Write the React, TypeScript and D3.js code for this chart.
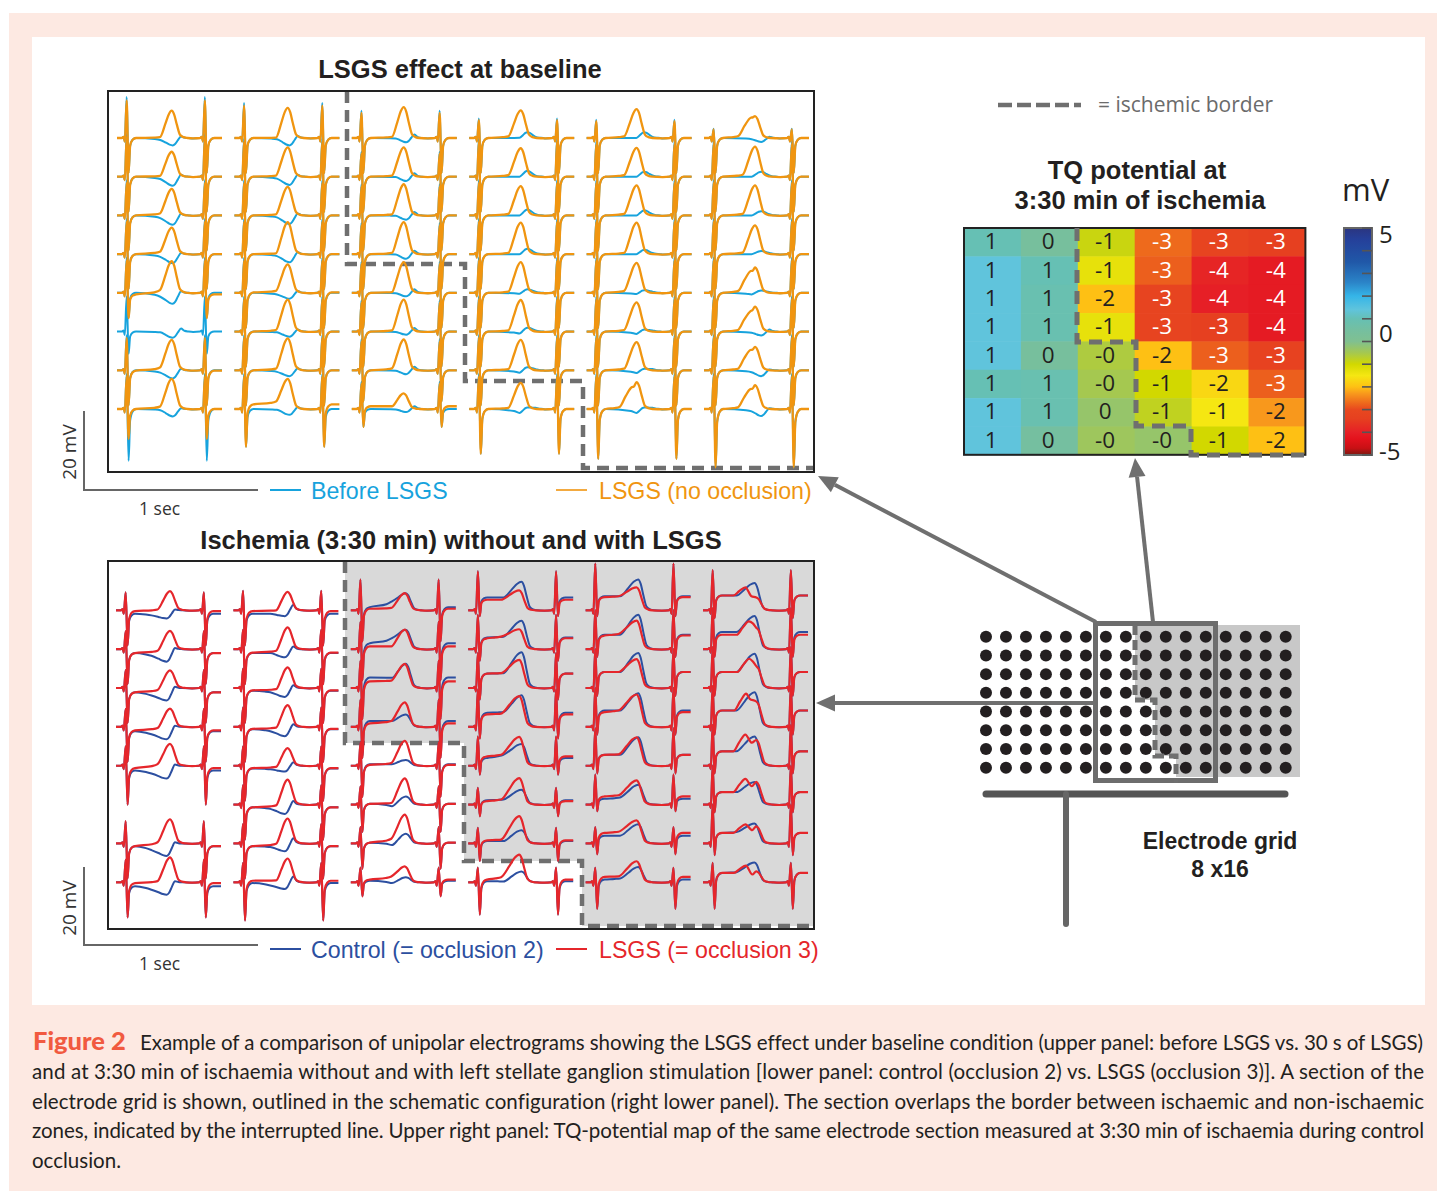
import React from 'react';
import * as d3 from 'd3';

// ── Electrogram read-offs, one inner list per grid column, 8 rows each (mV) ──
// null = lead not recorded
type Col = (number | null)[];

const topLsgsPeak: Col[] = [
  [7.0, 6.4, 6.8, 6.8, 8.1, null, 7.8, 7.7],
  [7.7, 7.5, 7.3, 8.2, 7.3, 8.2, 8.2, 7.7],
  [7.9, 7.5, 8.0, 8.2, 7.9, 8.2, 7.9, 4.0],
  [7.1, 7.3, 7.5, 8.1, 7.9, 8.1, 7.8, 6.7],
  [7.4, 7.4, 7.7, 8.1, 7.7, 7.5, 7.2, 6.9],
  [5.6, 7.7, 7.7, 7.4, 6.5, 6.4, 6.0, 6.1],
];
const topLsgsSt: Col[] = [
  [0, 0, 0, 0, -0.4, null, -0.1, 0],
  [0, 0, 0, 0, 0.1, 0, 0, 1.2],
  [0, 0, 0, 0, 0, 0, 0, 0.7],
  [0, 0, 0, 0, 0, 0, 0, 0],
  [0, 0, 0, 0, 0, 0, 0, 0],
  [0, 0, 0, 0, 0, 0, 0, 0],
];
const topLsgsShoulder: Col[] = [
  [0.2, 0.2, 0.5, 0.6, 0.7, null, 0.7, 0.6],
  [0.1, 0.3, 0.3, 0.2, 0.5, 0.4, 0.4, 1.9],
  [0.3, 0.3, 0.3, 0.3, 0.2, 0.3, 0.5, 0.7],
  [0.4, 0.4, 0.4, 0.3, 0.3, 0.3, 0.3, 0.3],
  [0.4, 0.4, 0.4, 0.3, 0.5, 0.4, 0.4, 0.5],
  [0.5, 0.5, 0.4, 0.4, 0.5, 0.4, 0.4, 0.4],
];
const topBeforePeak: Col[] = [
  [-1.9, -2.3, -2.4, -2.3, -2.8, -1.6, -2.1, -1.9],
  [-1.9, -2.1, -2.2, -2.1, -1.5, -1.3, -1.5, -1.5],
  [-1.1, -1.1, -1.1, -1.2, -0.9, -0.8, -1.0, -0.8],
  [1.5, 1.5, 1.5, 1.4, 0.9, 1.0, 0.8, 0.4],
  [1.5, 1.3, 1.3, 1.1, 0.7, 0.5, 0.4, 0.4],
  [-1.0, 1.3, 1.1, 0.8, 0.6, -1.0, -1.5, -1.8],
];
const topBeforeLate: Col[] = [
  [0.4, 0.5, 0.4, 0.3, 0.4, 0.8, 0.4, 0.2],
  [0.5, 0.5, 0.5, 0.5, 0.5, 0.5, 0.5, 0.5],
  [0.9, 0.9, 0.9, 0.9, 0.9, 0.9, 0.9, 0.7],
  [0.3, 0.3, 0.3, 0.3, 0.3, 0.3, 0.3, 0.3],
  [0.3, 0.3, 0.3, 0.3, 0.3, 0.3, 0.3, 0.3],
  [0.3, 0.3, 0.3, 0.3, 0.2, 0.5, 0.2, 0.2],
];
const topBeforeShoulder: Col[] = [
  [-0.5, -0.6, -0.7, -0.7, -1.0, -0.2, -0.6, -0.3],
  [-0.3, -0.5, -0.5, -0.5, -0.4, -0.2, -0.4, -0.2],
  [-0.1, -0.1, -0.1, -0.1, -0.1, -0.1, -0.1, -0.1],
  [0.05, 0, 0, 0, -0.2, -0.5, -0.6, -1.0],
  [0, 0, 0, 0, -0.3, -0.6, -0.7, -1.0],
  [-0.3, 0, 0, 0, -0.4, -0.3, -0.5, -0.6],
];
const topR: Col[] = [
  [10.5, 11, 9, 9, 9, 9, 9, 9],
  [9, 9.8, 9, 9, 9, 9, 9, 9],
  [7, 6.4, 8, 8, 8, 8, 8, 7],
  [5, 9.8, 9, 9, 9, 9, 9, 9],
  [4.7, 9, 9, 9, 9, 9, 9, 9],
  [2.4, 9, 9, 9, 9, 9, 9, 9],
];
const topLsgsS: Col[] = [
  [9, 9, 9, 9, 6.5, null, 9, 7.7],
  [9, 9, 9, 9, 9, 9, 9, 9.7],
  [9, 9, 9, 9, 9, 9, 8, 4.6],
  [9, 9, 9, 9, 9, 9, 9, 11.5],
  [9, 9, 9, 9, 9, 9, 9, 12.8],
  [9, 9, 9, 9, 9, 9, 9, 15],
];
const topBeforeS: Col[] = [
  [9, 9, 9, 9, 6.5, 5.7, 9, 13.3],
  [9, 9, 9, 9, 9, 9, 9, 9.7],
  [9, 9, 9, 9, 9, 9, 8, 4.6],
  [9, 9, 9, 9, 9, 9, 9, 11.5],
  [9, 9, 9, 9, 9, 9, 9, 12.8],
  [9, 9, 9, 9, 9, 9, 9, 15],
];
const topLsgsMs = [316, 308, 300, 298, 289, 295];
const topBeforeMs = [322, 318, 314, 336, 333, 330];
const topLsgsRise = [68, 68, 68, 72, 72, 72];
const topBeforeRise = [72, 72, 60, 45, 45, 55];
// [col, row, humpMs, humpMv, notchMs, notchMv]
const topLsgsHumps = [
  [5, 0, 270, 5.2, 282, 5.3],
  [5, 4, 270, 5.6, 282, 5.7],
  [5, 5, 268, 5.2, 280, 5.5],
  [5, 6, 268, 5.2, 280, 5.3],
  [5, 7, 268, 5.1, 280, 5.2],
  [4, 7, 262, 5.6, 272, 5.7],
];

const botLsgsPeak: Col[] = [
  [4.9, 4.7, 4.5, 4.7, 5.6, null, 6.2, 6.4],
  [4.7, 5.6, 5.3, 5.6, 4.5, 6.4, 6.4, 6.1],
  [4.4, 5.0, 6.2, 6.3, 6.4, 6.7, 7.4, 4.1],
  [5.1, 5.1, 7.2, 7.9, 7.4, 6.8, 7.0, 7.1],
  [5.9, 7.3, 7.4, 8.3, 7.3, 6.2, 5.9, 5.4],
  [3.3, 5.5, 5.6, 6.5, 6.6, 5.8, 4.4, 2.8],
];
const botLsgsSt: Col[] = [
  [-0.2, -1.0, -1.1, -0.9, -0.6, null, -0.7, -0.2],
  [-0.2, -0.9, -0.6, -0.5, -0.6, -0.7, -0.7, 0.4],
  [0.4, 0.7, 1.7, 0.9, 0.2, 0.2, 0.2, 0.7],
  [2.7, 2.8, 3.7, 3.2, 2.4, 0.9, 0.8, 0.7],
  [3.4, 3.5, 4.1, 3.8, 2.8, 2.1, 2.7, 1.4],
  [3.8, 3.7, 4.1, 4.2, 3.7, 3.2, 2.7, 2.4],
];
const botLsgsShoulder: Col[] = [
  [0.2, -0.4, -0.5, -0.3, 0.4, null, 0.3, 0.3],
  [0.0, -0.4, -0.3, -0.2, -0.3, -0.2, -0.1, 0.5],
  [0.6, 0.7, 1.9, 1.5, 0.7, 0.4, 1.2, 1.5],
  [2.7, 3.2, 3.8, 3.4, 2.8, 1.3, 1.0, 1.3],
  [3.6, 3.9, 4.1, 4.2, 2.9, 2.4, 3.0, 1.5],
  [3.8, 3.7, 4.1, 4.2, 3.7, 3.2, 2.7, 2.4],
];
const botControlPeak: Col[] = [
  [-2.1, -3.2, -3.2, -3.2, -3.3, null, -3.2, -3.2],
  [-1.5, -2.1, -2.3, -2.4, -1.5, -2.4, -2.0, -1.7],
  [4.4, 5.0, 6.2, 3.2, 1.5, 2.1, 2.5, 1.3],
  [7.3, 7.3, 9.2, 8.1, 5.6, 3.8, 3.4, 2.8],
  [7.9, 8.8, 9.0, 8.6, 7.3, 5.1, 4.9, 3.9],
  [7.0, 8.5, 8.8, 8.9, 7.5, 5.8, 5.1, 5.1],
];
const botControlSt: Col[] = [
  [-0.9, -1.0, -1.1, -1.1, -1.2, null, -0.7, -1.0],
  [-0.9, -1.0, -0.7, -0.6, -0.7, -0.7, -0.7, -0.2],
  [0.8, 1.5, 2.7, 1.5, 0.4, 0.2, 0.2, 0.4],
  [3.3, 3.0, 3.7, 3.6, 2.0, 1.1, 0.6, 0.3],
  [3.6, 3.7, 4.1, 4.2, 2.8, 1.5, 2.0, 0.7],
  [3.8, 4.4, 4.1, 4.2, 3.7, 3.2, 2.7, 2.4],
];
const botControlShoulder: Col[] = [
  [-1.3, -1.7, -1.9, -1.9, -2.0, null, -1.7, -1.9],
  [-0.9, -1.0, -1.1, -1.1, -0.9, -1.1, -0.9, -0.8],
  [2.3, 2.8, 2.6, 1.5, 0.4, -0.4, -0.4, -0.2],
  [3.3, 3.2, 3.8, 3.8, 2.8, 1.3, 0.6, 0.2],
  [3.6, 3.7, 4.1, 4.2, 2.8, 1.8, 2.0, 1.0],
  [3.8, 4.4, 4.1, 4.2, 3.7, 3.2, 2.9, 2.6],
];
// rebound after an inverted T wave, null where the wave is upright
const botControlLate: Col[] = [
  [0.2, 0.3, 0.3, 0.3, 0.3, null, 0.3, 0.3],
  [1.4, 0.7, 0.7, 0.7, 0.9, 0.9, 1.3, 1.5],
  [null, null, null, null, null, null, null, null],
  [null, null, null, null, null, null, null, null],
  [null, null, null, null, null, null, null, null],
  [null, null, null, null, null, null, null, null],
];
const botR: Col[] = [
  [4.6, 4.6, 4.6, 4.6, 5, null, 5.7, 5.8],
  [5, 5, 5, 5, 5, 5, 5, 5],
  [7.9, 7, 7, 7, 6, 4.7, 4.2, 3.8],
  [10, 8.8, 9, 9.6, 7.5, 4.3, 4, 3.8],
  [12, 10, 10, 10, 9.6, 7.7, 4.2, 3.7],
  [10.3, 10.5, 10.5, 10.5, 10.5, 10, 10, 5],
];
const botS: Col[] = [
  [9, 9, 9, 9, 10, null, 9, 9],
  [9, 9, 9, 9, 9, 9, 9, 9.8],
  [8, 8, 8, 8, 8, 7, 6.5, 3.6],
  [1.5, 3, 3, 3, 2.3, 3, 4.5, 8.3],
  [1.5, 2, 2, 2, 2, 1.7, 2.8, 6.8],
  [2, 2, 2, 2, 2, 2, 3, 6.8],
];
const botLsgsMs = [312, 313, 312, 295, 295, 308];
const botControlMs = [293, 298, 318, 308, 304, 298];
const botLsgsRise = [72, 66, 78, 105, 105, 70];
const botControlRise = [88, 85, 80, 105, 105, 105];
const botLsgsHumps = [
  [5, 0, 245, 5.9, 280, 3.6],
  [5, 1, 265, 7.1, 288, 6.6],
  [5, 2, 268, 7.5, 288, 6.8],
  [5, 3, 250, 8.5, 270, 7.2],
  [5, 4, 245, 8.0, 282, 5.9],
  [5, 5, 245, 6.6, 282, 4.7],
  [5, 6, 245, 4.9, 285, 3.4],
  [5, 7, 248, 4.3, 285, 2.0],
];

const rowsCount = 8;
const colsCount = 6;

// ── TQ potential map (map values, then the rounded labels as printed) ──
const tqValues = [
  [1.0, 0.4, -0.9, -2.7, -3.2, -3.4],
  [1.4, 1.0, -1.3, -2.8, -3.9, -4.1],
  [1.4, 0.9, -2.0, -3.2, -4.0, -4.1],
  [1.4, 0.9, -1.3, -3.2, -3.4, -4.1],
  [1.4, 0.4, -0.6, -2.0, -2.8, -3.3],
  [1.0, 0.9, -0.5, -1.0, -1.7, -2.8],
  [1.4, 0.9, -0.3, -0.8, -1.5, -2.3],
  [1.4, 0.5, -0.4, -0.3, -1.0, -2.0],
];
const tqLabels = [
  ['1', '0', '-1', '-3', '-3', '-3'],
  ['1', '1', '-1', '-3', '-4', '-4'],
  ['1', '1', '-2', '-3', '-4', '-4'],
  ['1', '1', '-1', '-3', '-3', '-4'],
  ['1', '0', '-0', '-2', '-3', '-3'],
  ['1', '1', '-0', '-1', '-2', '-3'],
  ['1', '1', '0', '-1', '-1', '-2'],
  ['1', '0', '-0', '-0', '-1', '-2'],
];
const heatStops = [-5, -4.7, -4.3, -4, -3.4, -3, -2.7, -2.3, -2, -1.5, -1, -0.5, 0, 0.5, 1, 1.4, 2, 2.6, 3.5, 4.5, 5];
const heatColors = [
  '#7a1a12', '#c81014', '#e3121c', '#e61f26', '#e64020', '#e8481f', '#ee6a1c', '#f8981c', '#fec014', '#f5e712',
  '#d2d800', '#a5c850', '#80c090', '#75bfa0', '#66c0b4', '#60c4dc', '#35b5e8', '#2b84c8', '#2058a8', '#25409a', '#2b3580',
];
const barTicks = d3.range(-5, 6);

const captionLines = [
  'Example of a comparison of unipolar electrograms showing the LSGS effect under baseline condition (upper panel: before LSGS vs. 30 s of LSGS)',
  'and at 3:30 min of ischaemia without and with left stellate ganglion stimulation [lower panel: control (occlusion 2) vs. LSGS (occlusion 3)]. A section of the',
  'electrode grid is shown, outlined in the schematic configuration (right lower panel). The section overlaps the border between ischaemic and non-ischaemic',
  'zones, indicated by the interrupted line. Upper right panel: TQ-potential map of the same electrode section measured at 3:30 min of ischaemia during control',
  'occlusion.',
];

const COLORS = {
  before: '#17a3dd',
  lsgs: '#f09510',
  control: '#2c4fa0',
  red: '#e5262b',
  dash: '#6f6f6f',
  ink: '#231f20',
  pink: '#fde9e2',
};

const FONT_BOLD = '"Liberation Sans", Arial, sans-serif';
const FONT_SOFT = '"Open Sans", sans-serif';

const SAMPLE_END = 607;
const BEAT_MS = 452;

const xMs = d3.scaleLinear().domain([0, 1000]).range([0, 173]);
const yMv = d3.scaleLinear().domain([0, 20]).range([0, -78]);

interface Beat {
  r: number;
  s: number;
  st: number;
  sh: number;
  pk: number;
  late: number;
  tp: number;
  rise: number;
  hump?: number[];
}

// Knots of one recorded trace (two QRS complexes with a T wave between)
function beatKnots(b: Beat): [number, number][] {
  const qrs = (off: number, post: number): [number, number][] => [
    [off + 28, 0],
    [off + 38, 0.3],
    [off + 45, -0.9],
    [off + 56, b.r],
    [off + 67, -b.s],
    [off + 76, post + (-b.s - post) * 0.22],
    [off + 90, post + (-b.s - post) * 0.05],
    [off + 110, post],
  ];
  const { st, sh, pk, late, tp, rise, hump } = b;
  const pts: [number, number][] = [[0, 0], ...qrs(0, st)];
  if (hump) {
    const [t, v, nt, nv] = hump;
    pts.push(
      [t - rise - 28, st + (sh - st) * 0.5],
      [t - rise, sh],
      [t - rise * 0.5, sh + (v - sh) * 0.55],
      [t, v],
      [nt, nv],
    );
  } else {
    pts.push(
      [Math.max(125, tp - rise - 32), st + (sh - st) * 0.5],
      [tp - rise, sh],
      [tp - rise * 0.54, sh + (pk - sh) * 0.5],
      [tp - rise * 0.25, sh + (pk - sh) * 0.86],
    );
  }
  pts.push(
    [tp, pk],
    [tp + 14, late + (pk - late) * 0.85],
    [tp + 30, late + (pk - late) * 0.42],
    [tp + 48, late],
    [tp + 68, late * 0.25],
    [tp + 92, 0],
    [440, -0.1],
    ...qrs(BEAT_MS, st),
    [SAMPLE_END, st],
  );
  return pts;
}

const beatLine = d3
  .line<[number, number]>()
  .x((d) => xMs(d[0]))
  .y((d) => yMv(d[1]))
  .curve(d3.curveMonotoneX);

interface SeriesSpec {
  color: string;
  width: number;
  peak: Col[];
  st?: Col[];
  shoulder: Col[];
  late?: Col[];
  r: Col[];
  s: Col[];
  ms: number[];
  rise: number[];
  rScale?: number;
  humps?: number[][];
}

function Traces({ spec, xStart, yStart, yEnd }: { spec: SeriesSpec; xStart: number; yStart: number; yEnd: number }) {
  const colX = d3.scaleLinear().domain([0, colsCount - 1]).range([xStart, xStart + 5 * 117.4]);
  const rowY = d3.scaleLinear().domain([0, rowsCount - 1]).range([yStart, yEnd]);
  const paths: React.ReactNode[] = [];
  spec.peak.forEach((column, c) => {
    column.forEach((pk, r) => {
      if (pk === null) return;
      const late = spec.late?.[c]?.[r];
      const beat: Beat = {
        r: (spec.r[c][r] ?? 9) * (spec.rScale ?? 1),
        s: spec.s[c][r] ?? 9,
        st: spec.st?.[c]?.[r] ?? 0,
        sh: spec.shoulder[c][r] ?? 0,
        pk,
        late: late ?? pk * 0.12,
        tp: spec.ms[c],
        rise: spec.rise[c],
        hump: spec.humps?.find((h) => h[0] === c && h[1] === r)?.slice(2),
      };
      paths.push(
        <path
          key={`${c}-${r}`}
          transform={`translate(${colX(c)},${rowY(r)})`}
          d={beatLine(beatKnots(beat)) ?? ''}
          fill="none"
          stroke={spec.color}
          strokeWidth={spec.width}
          strokeLinejoin="round"
        />,
      );
    });
  });
  return <g>{paths}</g>;
}

function ScaleBar({ top, bottom, labelY, secY }: { top: number; bottom: number; labelY: number; secY: number }) {
  return (
    <g>
      <path d={`M84,${top}V${bottom}H258`} fill="none" stroke="#666" strokeWidth={2} />
      <text
        transform={`translate(76,${labelY}) rotate(-90)`}
        textAnchor="middle"
        fontFamily={FONT_SOFT}
        fontSize={19}
        fill="#333"
      >
        20 mV
      </text>
      <text x={139} y={secY} fontFamily={FONT_SOFT} fontSize={17.5} fill="#333">
        1 sec
      </text>
    </g>
  );
}

function LegendItem({ x, y, lineX, color, label, lineW }: { x: number; y: number; lineX: number; color: string; label: string; lineW: number }) {
  return (
    <g>
      <line x1={lineX} x2={lineX + 31} y1={y - 9} y2={y - 9} stroke={color} strokeWidth={lineW} />
      <text x={x} y={y} fontFamily={FONT_BOLD} fontSize={23.2} fill={color}>
        {label}
      </text>
    </g>
  );
}

function Arrow({ from, to }: { from: [number, number]; to: [number, number] }) {
  const a = Math.atan2(to[1] - from[1], to[0] - from[0]);
  const len = 19;
  const half = 8.5;
  const bx = to[0] - len * Math.cos(a);
  const by = to[1] - len * Math.sin(a);
  const nx = -Math.sin(a) * half;
  const ny = Math.cos(a) * half;
  return (
    <g fill={COLORS.dash} stroke="none">
      <line x1={from[0]} y1={from[1]} x2={bx} y2={by} stroke={COLORS.dash} strokeWidth={4} />
      <polygon points={`${to[0]},${to[1]} ${bx + nx},${by + ny} ${bx - nx},${by - ny}`} />
    </g>
  );
}

const Dashed = ({ d, w = 4.5, dash = '12 7' }: { d: string; w?: number; dash?: string }) => (
  <path d={d} fill="none" stroke={COLORS.dash} strokeWidth={w} strokeDasharray={dash} />
);

function TqMap() {
  const x0 = 964;
  const y0 = 228;
  const cw = 56.9;
  const ch = 28.35;
  const color = d3.scaleLinear<string>().domain(heatStops).range(heatColors);
  const barY = d3.scaleLinear().domain([5, -5]).range([228, 455]);
  return (
    <g>
      {tqValues.map((row, r) =>
        row.map((v, c) => (
          <rect key={`${r}-${c}`} x={x0 + c * cw} y={y0 + r * ch} width={cw + 0.5} height={ch + 0.5} fill={color(v)} />
        )),
      )}
      <rect x={x0} y={y0} width={6 * cw} height={8 * ch} fill="none" stroke="#222" strokeWidth={2} />
      {tqLabels.map((row, r) =>
        row.map((t, c) => (
          <text
            key={`${r}-${c}`}
            x={x0 + (c + 0.48) * cw}
            y={y0 + (r + 0.5) * ch + 7}
            textAnchor="middle"
            fontFamily={FONT_SOFT}
            fontSize={22.5}
            fill={t === '-3' || t === '-4' ? '#fff' : COLORS.ink}
          >
            {t}
          </text>
        )),
      )}
      <Dashed d="M1077,228V342H1136V426H1191V455H1305" w={5} dash="13 8" />

      <defs>
        <linearGradient id="mvBar" x1="0" x2="0" y1="0" y2="1">
          {heatStops
            .slice()
            .reverse()
            .map((v, i) => (
              <stop key={i} offset={(5 - v) / 10} stopColor={color(v)} />
            ))}
        </linearGradient>
      </defs>
      <rect x={1344} y={228} width={28} height={227} fill="url(#mvBar)" stroke="#666" strokeWidth={2} />
      {barTicks.map((v) => (
        <line key={v} x1={1362} x2={1372} y1={barY(v)} y2={barY(v)} stroke="#555" strokeWidth={1.6} />
      ))}
      <g fontFamily={FONT_SOFT} fill={COLORS.ink}>
        <text x={1342} y={201} fontSize={31}>mV</text>
        <text x={1379} y={243} fontSize={24}>5</text>
        <text x={1379} y={342} fontSize={24}>0</text>
        <text x={1379} y={460} fontSize={24}>-5</text>
      </g>
    </g>
  );
}

function Schematic() {
  const cx = d3.scaleLinear().domain([0, 15]).range([986, 1285.7]);
  const cy = d3.scaleLinear().domain([0, 7]).range([636.7, 767.7]);
  return (
    <g>
      <polygon points="1135,625 1300,625 1300,777 1176,777 1176,756 1155,756 1155,700 1135,700" fill="#c8c8c8" />
      {d3.range(8).map((r) =>
        d3.range(16).map((c) => <circle key={`${r}-${c}`} cx={cx(c)} cy={cy(r)} r={6} fill={COLORS.ink} />),
      )}
      <rect x={1095.5} y={623.5} width={120} height={157} fill="none" stroke="#6d6d6d" strokeWidth={5} />
      <Dashed d="M1135,625V700H1155V756H1176V783" w={5} dash="10 5" />
      <line x1={986} x2={1285} y1={794} y2={794} stroke="#555" strokeWidth={7} strokeLinecap="round" />
      <line x1={1066} x2={1066} y1={794} y2={924} stroke="#666" strokeWidth={6} strokeLinecap="round" />
      <g fontFamily={FONT_BOLD} fontWeight="bold" fontSize={23} textAnchor="middle" fill={COLORS.ink}>
        <text x={1220} y={849}>Electrode grid</text>
        <text x={1220} y={877}>8 x16</text>
      </g>
    </g>
  );
}

export default function App() {
  return (
    <svg
      width={1437}
      height={1191}
      viewBox="0 0 1437 1191"
      style={{ position: 'absolute', left: 0, top: 0, display: 'block' }}
    >
      <rect width={1437} height={1191} fill="#fff" />
      <rect x={9} y={13} width={1428} height={1178} fill={COLORS.pink} />
      <rect x={32} y={37} width={1393} height={968} fill="#fff" />

      {/* Upper panel */}
      <text x={460} y={78} textAnchor="middle" fontFamily={FONT_BOLD} fontWeight="bold" fontSize={25.5} fill={COLORS.ink}>
        LSGS effect at baseline
      </text>
      <Dashed d="M347,91V264H465V381H583V468H814" />
      <Traces
        xStart={117}
        yStart={138}
        yEnd={409}
        spec={{
          color: COLORS.before,
          width: 2,
          peak: topBeforePeak,
          shoulder: topBeforeShoulder,
          late: topBeforeLate,
          r: topR,
          s: topBeforeS,
          ms: topBeforeMs,
          rise: topBeforeRise,
        }}
      />
      <Traces
        xStart={117}
        yStart={138}
        yEnd={409}
        spec={{
          color: COLORS.lsgs,
          width: 2.3,
          peak: topLsgsPeak,
          st: topLsgsSt,
          shoulder: topLsgsShoulder,
          r: topR,
          s: topLsgsS,
          ms: topLsgsMs,
          rise: topLsgsRise,
          rScale: 0.92,
          humps: topLsgsHumps,
        }}
      />
      <rect x={108} y={91} width={706} height={381} fill="none" stroke="#222" strokeWidth={2} />
      <ScaleBar top={411} bottom={490} labelY={452} secY={515} />
      <LegendItem x={311} y={499} lineX={270} color={COLORS.before} label="Before LSGS" lineW={2} />
      <LegendItem x={599} y={499} lineX={556} color={COLORS.lsgs} label="LSGS (no occlusion)" lineW={1.6} />

      {/* Lower panel */}
      <text x={461} y={549} textAnchor="middle" fontFamily={FONT_BOLD} fontWeight="bold" fontSize={25.5} fill={COLORS.ink}>
        Ischemia (3:30 min) without and with LSGS
      </text>
      <polygon points="345,561 814,561 814,926 582,926 582,861 464,861 464,743 345,743" fill="#d9d9d9" />
      <Dashed d="M345,561V743H464V861H582V926H814" />
      <Traces
        xStart={116}
        yStart={610.3}
        yEnd={882.3}
        spec={{
          color: COLORS.control,
          width: 2,
          peak: botControlPeak,
          st: botControlSt,
          shoulder: botControlShoulder,
          late: botControlLate,
          r: botR,
          s: botS,
          ms: botControlMs,
          rise: botControlRise,
        }}
      />
      <Traces
        xStart={116}
        yStart={610.3}
        yEnd={882.3}
        spec={{
          color: COLORS.red,
          width: 2.2,
          peak: botLsgsPeak,
          st: botLsgsSt,
          shoulder: botLsgsShoulder,
          r: botR,
          s: botS,
          ms: botLsgsMs,
          rise: botLsgsRise,
          humps: botLsgsHumps,
        }}
      />
      <rect x={108} y={561} width={706} height={368} fill="none" stroke="#222" strokeWidth={2} />
      <ScaleBar top={867} bottom={945} labelY={908} secY={970} />
      <LegendItem x={311} y={958} lineX={270} color={COLORS.control} label="Control (= occlusion 2)" lineW={2} />
      <LegendItem x={599} y={958} lineX={556} color={COLORS.red} label="LSGS (= occlusion 3)" lineW={2} />

      {/* Upper right */}
      <line x1={998} x2={1081} y1={105} y2={105} stroke={COLORS.dash} strokeWidth={4.5} strokeDasharray="14 5" />
      <text x={1098} y={112} fontFamily={FONT_SOFT} fontSize={21} fill="#6b6b6b">
        = ischemic border
      </text>
      <g fontFamily={FONT_BOLD} fontWeight="bold" fontSize={25.5} textAnchor="middle" fill={COLORS.ink}>
        <text x={1137} y={179}>TQ potential at</text>
        <text x={1140} y={209}>3:30 min of ischemia</text>
      </g>
      <TqMap />

      <Schematic />
      <Arrow from={[1096, 622]} to={[818, 476]} />
      <Arrow from={[1153, 622]} to={[1135, 458]} />
      <Arrow from={[1095, 703]} to={[816, 703]} />

      {/* Caption */}
      <text x={33} y={1050} fontFamily="Lato, sans-serif" fontWeight="900" fontSize={25.5} fill="#f15a40">
        Figure 2
      </text>
      <g fontFamily="Lato, sans-serif" fontSize={20.5} fill={COLORS.ink} style={{ fontVariantLigatures: 'none' }}>
        {captionLines.map((line, i) => (
          <text
            key={i}
            x={i === 0 ? 140 : 32}
            y={1050 + i * 29.4}
            textLength={i === 4 ? undefined : i === 0 ? 1283 : 1392}
            lengthAdjust="spacing"
          >
            {line}
          </text>
        ))}
      </g>
    </svg>
  );
}
